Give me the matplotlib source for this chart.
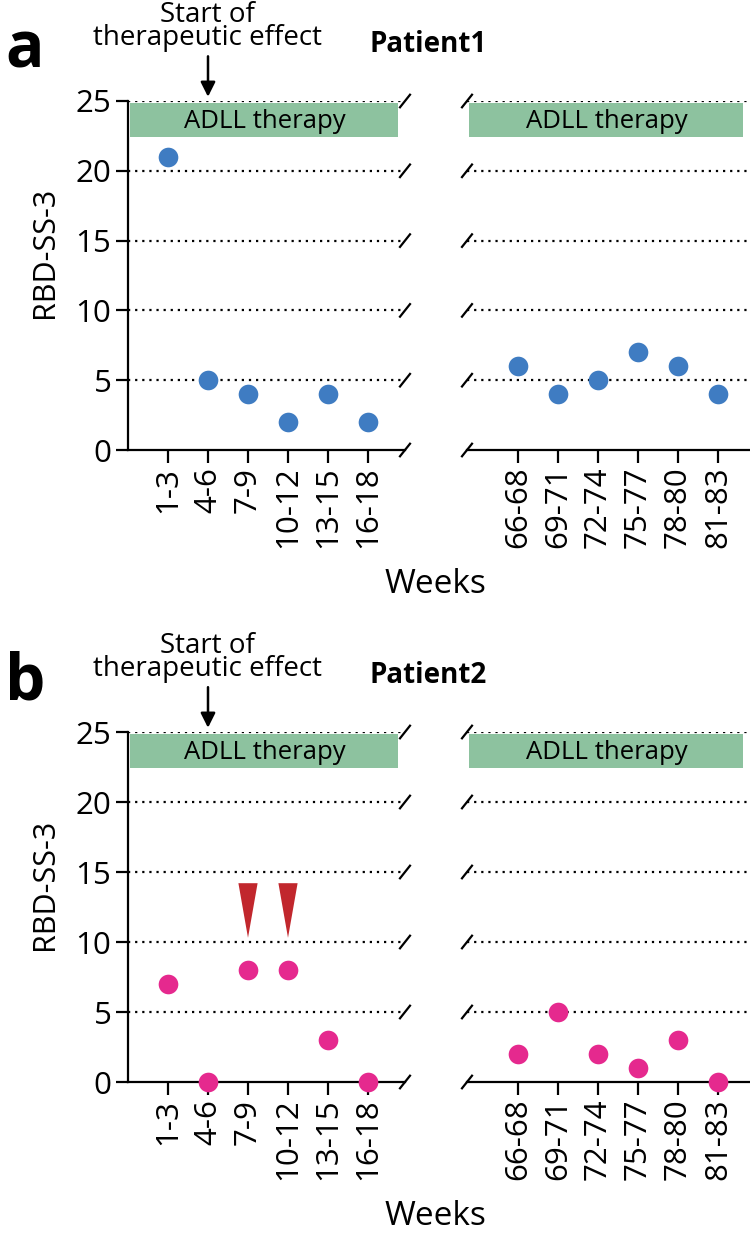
import matplotlib
matplotlib.use("Agg")
import matplotlib.pyplot as plt
from matplotlib.transforms import blended_transform_factory

plt.rcParams['font.family'] = ['Open Sans', 'DejaVu Sans']

# data
weeks_early = ['1-3', '4-6', '7-9', '10-12', '13-15', '16-18']
weeks_late = ['66-68', '69-71', '72-74', '75-77', '78-80', '81-83']
p1_early = [21, 5, 4, 2, 4, 2]
p1_late = [6, 4, 5, 7, 6, 4]
p2_early = [7, 0, 8, 8, 3, 0]
p2_late = [2, 5, 2, 1, 3, 0]
p2_flags = ['7-9', '10-12']   # red wedges

blue = '#3f7cc2'
pink = '#e5298e'
green = '#8dc29f'
red = '#c1272d'

W, H = 750, 1233
fig = plt.figure(figsize=(W / 100, H / 100), dpi=100)


def box(x0, y_top, x1, y_bot):
    return [x0 / W, 1 - y_bot / H, (x1 - x0) / W, (y_bot - y_top) / H]


def slashes(ax, xa, yticks):
    tr = blended_transform_factory(ax.transAxes, ax.transData)
    w = 5 / (ax.get_position().width * W)
    for y in yticks:
        ax.plot([xa - w, xa + w], [y - 0.45, y + 0.45], color='k', lw=1.6,
                transform=tr, clip_on=False, zorder=5)


def panel(y25, y0, early, late, color, name, letter, flags=None):
    axl = fig.add_axes(box(128, y25, 405, y0))
    axr = fig.add_axes(box(467, y25, 750, y0))
    yt = [0, 5, 10, 15, 20, 25]
    xl = list(range(1, 7))
    axl.set_xlim(0, 277 / 40)
    axr.set_xlim(-0.275, -0.275 + 283 / 40)
    for ax in (axl, axr):
        ax.set_ylim(0, 25)
        ax.set_xticks(xl)
        for s in ['top', 'right']:
            ax.spines[s].set_visible(False)
        ax.spines['bottom'].set_linewidth(1.6)
        ax.spines['left'].set_linewidth(1.6)
        ax.tick_params(axis='both', length=9, width=1.6, labelsize=22.5, pad=3)
        for y in yt[1:]:
            ax.axhline(y, color='k', ls=(0, (1, 2.2)), lw=1.6, zorder=1)
        ax.axhspan(22.4, 24.85, xmin=0.007, xmax=0.975, color=green, lw=0, zorder=2)
        ax.text(0.5 * (ax.get_xlim()[0] + ax.get_xlim()[1]) - 0.05, 23.55,
                'ADLL therapy', ha='center', va='center', fontsize=18.5, zorder=3)
    axl.set_xticklabels(weeks_early, rotation=90)
    axr.set_xticklabels(weeks_late, rotation=90)
    axl.set_yticks(yt)
    axr.set_yticks([])
    axr.spines['left'].set_visible(False)
    axl.scatter(xl, early, s=200, color=color, zorder=4, clip_on=False, lw=0)
    axr.scatter(xl, late, s=200, color=color, zorder=4, clip_on=False, lw=0)
    slashes(axl, 1.0, yt)
    slashes(axr, 0.0, yt)

    if flags:
        for lab in flags:
            x = weeks_early.index(lab) + 1
            axl.fill([x - 0.24, x + 0.24, x], [14.2, 14.2, 10.3], color=red,
                     lw=0, zorder=4)

    axl.set_ylabel('RBD-SS-3', fontsize=22)
    axl.yaxis.set_label_coords(-68 / 277, 0.565)
    # titles / annotations in pixel space
    fig.text(5 / W, 1 - (y25 - 33) / H, letter, fontsize=46, fontweight='bold',
             va='baseline', ha='left')
    fig.text(207 / W, 1 - (y25 - 49) / H, 'Start of\ntherapeutic effect',
             fontsize=20, ha='center', va='bottom', linespacing=0.78)
    fig.text(428 / W, 1 - (y25 - 49) / H, name, fontsize=20, fontweight='bold',
             ha='center', va='baseline')
    axl.annotate('', xy=(2, 25.3), xytext=(2, 28.2), annotation_clip=False,
                 arrowprops=dict(arrowstyle='-|>', color='k', lw=1.8,
                                 mutation_scale=22, shrinkA=0, shrinkB=0))
    fig.text(435 / W, 1 - (y0 + 143) / H, 'Weeks', fontsize=24,
             ha='center', va='baseline')


panel(101, 450, p1_early, p1_late, blue, 'Patient1', 'a')
panel(732, 1082, p2_early, p2_late, pink, 'Patient2', 'b', flags=p2_flags)

fig.savefig('out.png', dpi=100)
